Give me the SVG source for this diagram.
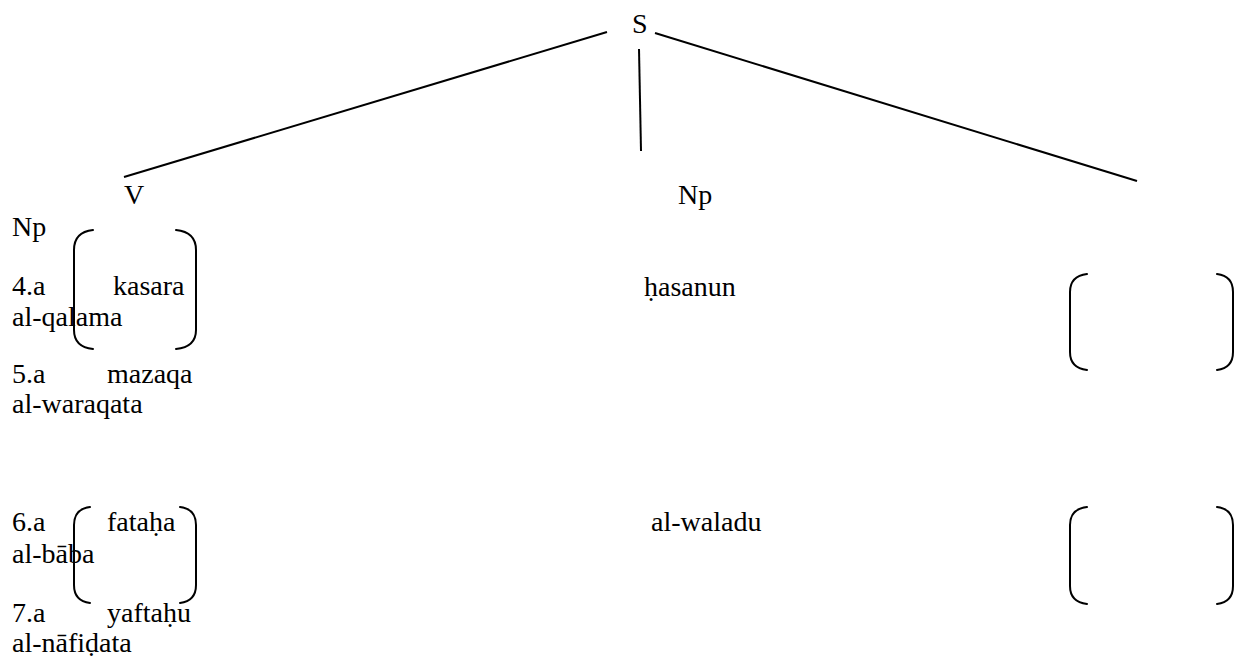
<svg xmlns="http://www.w3.org/2000/svg" width="1236" height="659" viewBox="0 0 1236 659">
<style>
text{font-family:"Liberation Serif","Times New Roman",serif;font-size:28px;fill:#000}
.ln{stroke:#000;stroke-width:2;fill:none}
.br{stroke:#000;stroke-width:2;fill:none;stroke-linecap:round}
</style>
<rect width="1236" height="659" fill="#fff"/>
<g id="connectors">
<line class="ln" x1="607" y1="32" x2="124" y2="177"/>
<line class="ln" x1="639" y1="49" x2="641" y2="151"/>
<line class="ln" x1="655" y1="33" x2="1137" y2="181"/>
</g>
<g id="node-S"><text x="632" y="33">S</text></g>
<g id="node-V"><text x="124" y="204">V</text></g>
<g id="node-Np-mid"><text x="678" y="204">Np</text></g>
<g id="node-Np-left"><text x="12" y="236">Np</text></g>
<g id="brackets">
<path class="br" d="M93,230 Q74,232 74,250 L74,330 Q74,347 93,349"/>
<path class="br" d="M176,230 Q196,232 196,250 L196,330 Q196,347 176,349"/>
<path class="br" d="M1087,274 Q1070,276 1070,292 L1070,352 Q1070,368 1087,370"/>
<path class="br" d="M1217,274 Q1233,276 1233,292 L1233,352 Q1233,368 1217,370"/>
<path class="br" d="M90,507 Q74,509 74,525 L74,585 Q74,601 90,603"/>
<path class="br" d="M180,507 Q196,509 196,525 L196,585 Q196,601 180,603"/>
<path class="br" d="M1087,507 Q1070,509 1070,525 L1070,586 Q1070,602 1087,604"/>
<path class="br" d="M1217,507 Q1233,509 1233,525 L1233,586 Q1233,602 1217,604"/>
</g>
<g id="examples">
<text x="12" y="295">4.a</text>
<text x="113" y="295">kasara</text>
<text x="12" y="326">al-qalama</text>
<text x="644" y="296">ḥasanun</text>
<text x="12" y="383">5.a</text>
<text x="107" y="383">mazaqa</text>
<text x="12" y="413">al-waraqata</text>
<text x="12" y="531">6.a</text>
<text x="107" y="531">fataḥa</text>
<text x="651" y="531">al-waladu</text>
<text x="12" y="563">al-bāba</text>
<text x="12" y="622">7.a</text>
<text x="107" y="622">yaftaḥu</text>
<text x="12" y="652">al-nāfiḍata</text>
</g>
</svg>
